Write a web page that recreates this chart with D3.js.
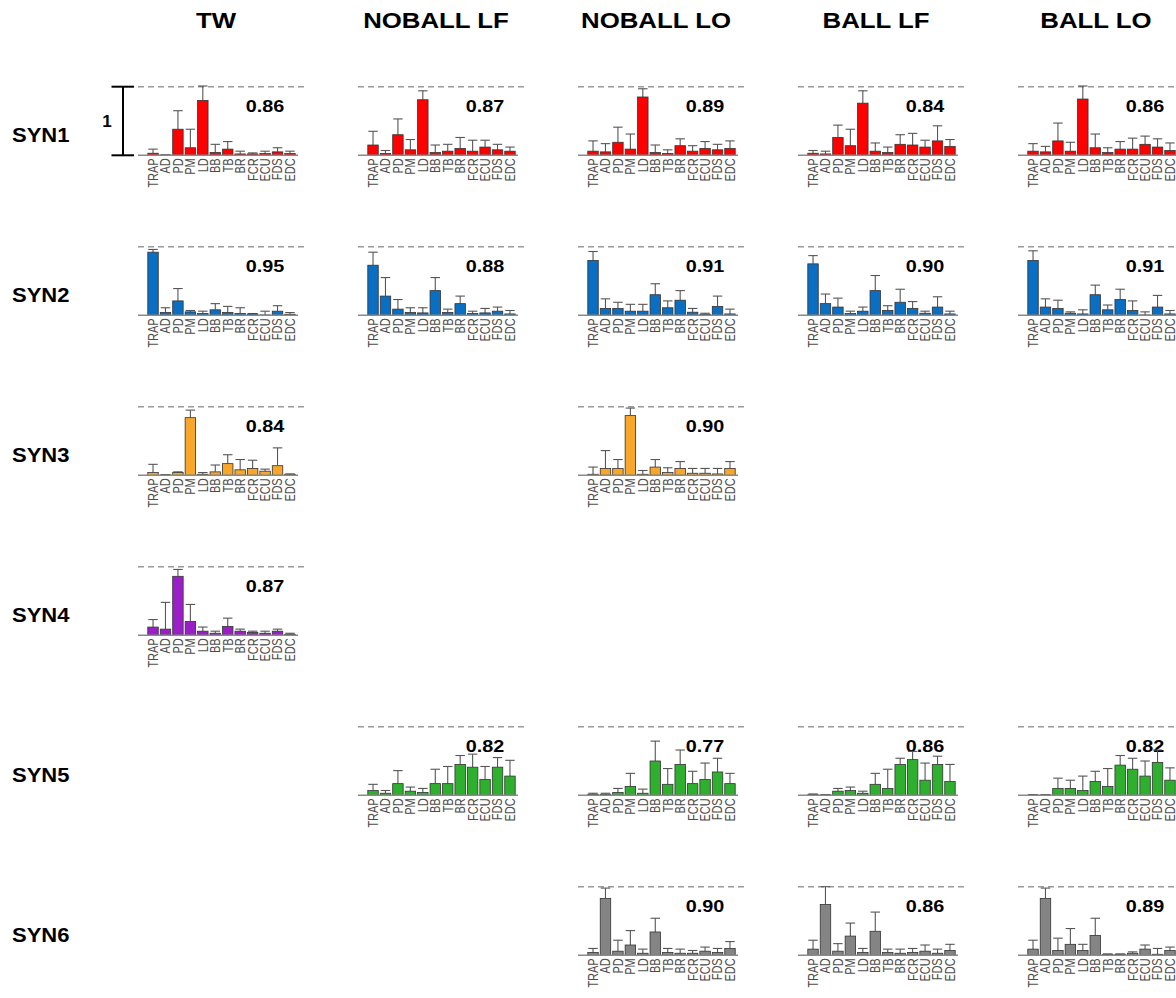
<!DOCTYPE html>
<html>
<head>
<meta charset="utf-8">
<script src="https://cdn.jsdelivr.net/npm/d3@7"></script>
<style>
  html, body { margin: 0; padding: 0; background: #fff; }
  svg { display: block; font-family: "Liberation Sans", Arial, Helvetica, sans-serif; }
</style>
</head>
<body>
<svg id="chart" width="1176" height="998"></svg>
<script>
// Muscles on each panel's x axis
const muscles = ["TRAP","AD","PD","PM","LD","BB","TB","BR","FCR","ECU","FDS","EDC"];
// Experimental conditions (columns) and synergies (rows)
const conditions = ["TW","NOBALL LF","NOBALL LO","BALL LF","BALL LO"];
const synergies = ["SYN1","SYN2","SYN3","SYN4","SYN5","SYN6"];
const synColors = ["#ff0000","#0a6fc2","#f9a72b","#9b1fc6","#2eb02e","#848484"];

// Mean weights per condition (null = synergy not extracted) and upper error-bar ends
const syn1Mean = [
  [0.03,0.005,0.38,0.11,0.80,0.04,0.09,0.02,0.02,0.025,0.05,0.025],
  [0.15,0.025,0.30,0.08,0.81,0.04,0.06,0.10,0.06,0.12,0.08,0.06],
  [0.06,0.05,0.19,0.09,0.85,0.04,0.025,0.14,0.06,0.10,0.08,0.10],
  [0.03,0.02,0.26,0.14,0.76,0.06,0.04,0.16,0.15,0.12,0.21,0.13],
  [0.06,0.05,0.21,0.06,0.82,0.11,0.04,0.09,0.09,0.16,0.12,0.07]
];
const syn1Upper = [
  [0.09,0.005,0.65,0.38,1.01,0.16,0.20,0.06,0.035,0.06,0.11,0.06],
  [0.35,0.07,0.53,0.23,0.94,0.15,0.16,0.26,0.22,0.22,0.16,0.12],
  [0.21,0.17,0.41,0.31,0.97,0.15,0.08,0.24,0.14,0.20,0.16,0.21],
  [0.07,0.06,0.44,0.38,0.94,0.18,0.12,0.30,0.32,0.22,0.43,0.23],
  [0.17,0.13,0.47,0.19,1.01,0.31,0.11,0.20,0.25,0.28,0.24,0.18]
];
const syn1R = ["0.86","0.87","0.89","0.84","0.86"];

const syn2Mean = [
  [0.92,0.04,0.21,0.05,0.025,0.08,0.04,0.025,0.02,0.005,0.06,0.015],
  [0.73,0.28,0.09,0.04,0.035,0.36,0.04,0.17,0.025,0.035,0.06,0.02],
  [0.80,0.10,0.10,0.06,0.06,0.30,0.11,0.22,0.045,0.015,0.13,0.02],
  [0.75,0.17,0.12,0.025,0.06,0.36,0.07,0.19,0.10,0.03,0.12,0.02],
  [0.80,0.12,0.10,0.03,0.02,0.30,0.08,0.23,0.07,0.005,0.12,0.02]
];
const syn2Upper = [
  [0.96,0.11,0.39,0.07,0.06,0.17,0.13,0.11,0.025,0.06,0.14,0.04],
  [0.92,0.55,0.23,0.11,0.11,0.55,0.09,0.28,0.06,0.10,0.12,0.07],
  [0.93,0.24,0.19,0.16,0.16,0.46,0.21,0.36,0.10,0.03,0.28,0.09],
  [0.87,0.31,0.25,0.06,0.12,0.58,0.14,0.38,0.20,0.06,0.27,0.06],
  [0.94,0.24,0.22,0.05,0.08,0.44,0.15,0.38,0.21,0.05,0.29,0.07]
];
const syn2R = ["0.95","0.88","0.91","0.90","0.91"];

const syn3Mean = [
  [0.04,0.005,0.04,0.84,0.015,0.05,0.17,0.08,0.10,0.06,0.14,0.015],
  null,
  [0.015,0.10,0.10,0.87,0.015,0.12,0.04,0.10,0.03,0.03,0.02,0.10],
  null,
  null
];
const syn3Upper = [
  [0.16,0.01,0.05,0.95,0.04,0.15,0.30,0.23,0.22,0.09,0.40,0.02],
  null,
  [0.12,0.36,0.23,0.98,0.07,0.23,0.11,0.20,0.10,0.10,0.10,0.20],
  null,
  null
];
const syn3R = ["0.84",null,"0.90",null,null];

const syn4Mean = [
  [0.12,0.09,0.86,0.20,0.06,0.03,0.13,0.06,0.04,0.03,0.06,0.015],
  null, null, null, null
];
const syn4Upper = [
  [0.23,0.48,0.96,0.45,0.12,0.06,0.25,0.09,0.06,0.06,0.09,0.03],
  null, null, null, null
];
const syn4R = ["0.87",null,null,null,null];

const syn5Mean = [
  null,
  [0.07,0.03,0.17,0.06,0.04,0.17,0.17,0.45,0.41,0.23,0.41,0.28],
  [0.015,0.015,0.04,0.13,0.03,0.50,0.16,0.45,0.17,0.23,0.34,0.17],
  [0.01,0.005,0.06,0.07,0.03,0.16,0.10,0.45,0.52,0.22,0.45,0.20],
  [0.005,0.005,0.10,0.10,0.07,0.20,0.13,0.44,0.38,0.28,0.48,0.22]
];
const syn5Upper = [
  null,
  [0.16,0.07,0.36,0.12,0.10,0.38,0.42,0.58,0.60,0.42,0.55,0.51],
  [0.03,0.03,0.10,0.32,0.09,0.79,0.39,0.66,0.35,0.47,0.54,0.32],
  [0.02,0.01,0.10,0.12,0.06,0.32,0.38,0.54,0.64,0.47,0.57,0.45],
  [0.01,0.01,0.25,0.22,0.28,0.35,0.39,0.58,0.54,0.50,0.66,0.40]
];
const syn5R = [null,"0.82","0.77","0.86","0.82"];

const syn6Mean = [
  null, null,
  [0.04,0.83,0.06,0.15,0.03,0.34,0.04,0.03,0.03,0.06,0.04,0.10],
  [0.09,0.74,0.06,0.28,0.04,0.35,0.04,0.03,0.04,0.06,0.03,0.07],
  [0.09,0.83,0.07,0.16,0.07,0.29,0.015,0.015,0.03,0.09,0.015,0.07]
];
const syn6Upper = [
  null, null,
  [0.10,0.98,0.22,0.36,0.09,0.54,0.10,0.09,0.07,0.12,0.10,0.20],
  [0.22,1.00,0.17,0.47,0.10,0.63,0.09,0.09,0.10,0.15,0.09,0.16],
  [0.22,0.98,0.25,0.39,0.16,0.54,0.02,0.02,0.05,0.15,0.10,0.12]
];
const syn6R = [null,null,"0.90","0.86","0.89"];

const meansByRow = [syn1Mean, syn2Mean, syn3Mean, syn4Mean, syn5Mean, syn6Mean];
const upperByRow = [syn1Upper, syn2Upper, syn3Upper, syn4Upper, syn5Upper, syn6Upper];
const rByRow = [syn1R, syn2R, syn3R, syn4R, syn5R, syn6R];

// Layout
const colStep = 220, rowStep = 160;
const panelLeft0 = 138, baseline0 = 155.3, unitH = 68.6;
const panelW = 160, dashW = 166;
const stretch = 1.2;  // horizontal widening of lettering

const svg = d3.select("#chart");
svg.append("rect").attr("width", 1176).attr("height", 998).attr("fill", "#fff");

// Column headings
conditions.forEach((c, ci) => {
  const cx = panelLeft0 + ci * colStep + 78;
  svg.append("text")
    .attr("transform", `translate(${cx},28) scale(${stretch},1)`)
    .attr("text-anchor", "middle")
    .attr("font-size", 21.5).attr("font-weight", "bold").attr("fill", "#000")
    .text(c);
});

// Row headings
synergies.forEach((s, ri) => {
  svg.append("text")
    .attr("transform", `translate(12,${baseline0 + ri * rowStep - 13}) scale(1.1,1)`)
    .attr("font-size", 20).attr("font-weight", "bold").attr("fill", "#000")
    .text(s);
});

synergies.forEach((s, ri) => {
  const base = baseline0 + ri * rowStep;
  const y = d3.scaleLinear().domain([0, 1]).range([base, base - unitH]);
  conditions.forEach((c, ci) => {
    const means = meansByRow[ri][ci];
    if (!means) return;
    const uppers = upperByRow[ri][ci];
    const left = panelLeft0 + ci * colStep;
    const x = d3.scaleBand().domain(muscles)
      .range([left + 8.8, left + 158.2]).paddingInner(0.16).paddingOuter(0.08);
    const g = svg.append("g");

    // reference line at weight 1
    g.append("line")
      .attr("x1", left).attr("x2", left + dashW)
      .attr("y1", y(1)).attr("y2", y(1))
      .attr("stroke", "#9a9a9a").attr("stroke-width", 1.5)
      .attr("stroke-dasharray", "6,4");

    // correlation value
    g.append("text")
      .attr("transform", `translate(${left + 127},${base - 43}) scale(${stretch},1)`)
      .attr("text-anchor", "middle")
      .attr("font-size", 16.5).attr("font-weight", "bold").attr("fill", "#000")
      .text(rByRow[ri][ci]);

    // error bars (upper half)
    const eb = g.selectAll(".eb").data(muscles).join("g");
    eb.append("line")
      .attr("x1", d => x(d) + x.bandwidth() / 2).attr("x2", d => x(d) + x.bandwidth() / 2)
      .attr("y1", (d, i) => y(means[i])).attr("y2", (d, i) => y(uppers[i]))
      .attr("stroke", "#555").attr("stroke-width", 1.1);
    eb.append("line")
      .attr("x1", d => x(d) + 0.5).attr("x2", d => x(d) + x.bandwidth() - 0.5)
      .attr("y1", (d, i) => y(uppers[i])).attr("y2", (d, i) => y(uppers[i]))
      .attr("stroke", "#555").attr("stroke-width", 1.1);

    // bars
    g.selectAll(".bar").data(muscles).join("rect")
      .attr("x", d => x(d)).attr("width", x.bandwidth())
      .attr("y", (d, i) => y(means[i]))
      .attr("height", (d, i) => y(0) - y(means[i]))
      .attr("fill", synColors[ri])
      .attr("stroke", "#333").attr("stroke-width", 0.8);

    // baseline
    g.append("line")
      .attr("x1", left).attr("x2", left + panelW)
      .attr("y1", base).attr("y2", base)
      .attr("stroke", "#8a8a8a").attr("stroke-width", 1.5);

    // muscle labels
    g.selectAll(".tick").data(muscles).join("text")
      .attr("transform", d => `translate(${x(d) + x.bandwidth() / 2},${base + 3}) rotate(-90) scale(1,1.25)`)
      .attr("text-anchor", "end").attr("dy", "0.36em")
      .attr("font-size", 11).attr("fill", "#4d4d4d")
      .text(d => d);
  });
});

// Scale bar for a weight of 1
const y1 = d3.scaleLinear().domain([0, 1]).range([baseline0, baseline0 - unitH]);
const sb = svg.append("g").attr("stroke", "#000").attr("stroke-width", 2);
sb.append("line").attr("x1", 123).attr("x2", 123).attr("y1", y1(0)).attr("y2", y1(1));
sb.append("line").attr("x1", 111.5).attr("x2", 134).attr("y1", y1(1)).attr("y2", y1(1));
sb.append("line").attr("x1", 111.5).attr("x2", 134).attr("y1", y1(0)).attr("y2", y1(0));
svg.append("text")
  .attr("x", 107).attr("y", y1(0.5) + 6)
  .attr("text-anchor", "middle")
  .attr("font-size", 17).attr("font-weight", "bold").attr("fill", "#000")
  .text("1");
</script>
</body>
</html>
